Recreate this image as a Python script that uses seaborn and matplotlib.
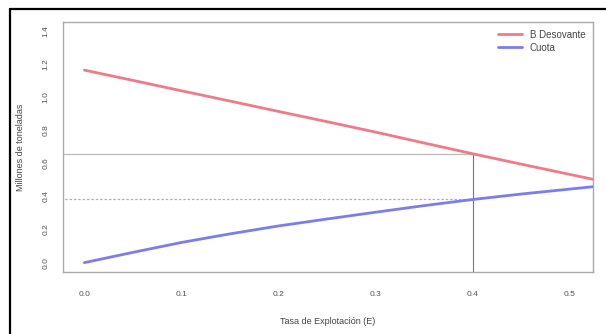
import numpy as np
import pandas as pd
import seaborn as sns
import matplotlib.pyplot as plt
from matplotlib.lines import Line2D

# values
tasa = [0.0, 0.05, 0.10, 0.15, 0.20, 0.25, 0.30, 0.35, 0.40, 0.45, 0.50, 0.525]
b_desovante = [1.165, 1.103, 1.040, 0.978, 0.915, 0.853, 0.790, 0.724, 0.659, 0.596, 0.534, 0.503]
cuota = [0.0, 0.062, 0.122, 0.174, 0.222, 0.264, 0.305, 0.345, 0.382, 0.415, 0.445, 0.460]
e_ref = 0.4
b_ref = 0.659
c_ref = 0.387

df = pd.DataFrame({
    "E": tasa * 2,
    "val": b_desovante + cuota,
    "serie": ["B Desovante"] * len(tasa) + ["Cuota"] * len(tasa),
})

sns.set_style("white")
plt.rcParams["font.family"] = ["Liberation Sans", "DejaVu Sans"]

fig = plt.figure(figsize=(6.06, 3.34), dpi=100)
ax = fig.add_axes([0.104, 0.186, 0.8745, 0.748])

# reference lines
ax.plot([-1, e_ref], [b_ref, b_ref], color="#bbbbbb", lw=0.9, zorder=1)
ax.plot([-1, e_ref], [c_ref, c_ref], color="#b0b0b0", lw=0.9, ls=(0, (2, 1.5)), zorder=1)
ax.plot([e_ref, e_ref], [-1, b_ref], color="#777777", lw=0.8, zorder=1)

sns.lineplot(data=df, x="E", y="val", hue="serie", ax=ax,
             palette={"B Desovante": "#f27a88", "Cuota": "#7b7cf2"},
             lw=2.0, legend=False, zorder=3)

ax.set_xlim(-0.022, 0.524)
ax.set_ylim(-0.056, 1.456)
ax.set_xticks([0.0, 0.1, 0.2, 0.3, 0.4, 0.5])
ax.set_yticks([0.0, 0.2, 0.4, 0.6, 0.8, 1.0, 1.2, 1.4])
ax.set_xticklabels(["0.0", "0.1", "0.2", "0.3", "0.4", "0.5"])
ax.set_yticklabels(["0.0", "0.2", "0.4", "0.6", "0.8", "1.0", "1.2", "1.4"],
                   rotation=90, va="center")
ax.tick_params(axis="both", labelsize=6, colors="#555555", length=3.5,
               width=0.7, direction="out")
ax.tick_params(axis="x", pad=10)
ax.tick_params(axis="y", pad=6)
ax.tick_params(axis="both", color="#999999")
for s in ax.spines.values():
    s.set_color("#aaaaaa")
    s.set_linewidth(1.0)

ax.set_xlabel("Tasa de Explotación (E)", fontsize=6.5, color="#444444", labelpad=14)
ax.set_ylabel("Millones de toneladas", fontsize=6.5, color="#444444", labelpad=13)

handles = [Line2D([], [], color="#f27a88", lw=2),
           Line2D([], [], color="#7b7cf2", lw=2)]
ax.legend(handles, ["B Desovante", "Cuota"], loc="upper right", frameon=False,
          fontsize=7, handlelength=2.4, handletextpad=0.8, labelspacing=0.3,
          borderaxespad=0.4, labelcolor="#444444")

# outer frame (left and top edges)
fig.add_artist(Line2D([9.5 / 606, 9.5 / 606], [0, 1 - 9 / 334], color="black",
                      lw=1.6, transform=fig.transFigure))
fig.add_artist(Line2D([9.5 / 606, 1], [1 - 9 / 334, 1 - 9 / 334], color="black",
                      lw=1.6, transform=fig.transFigure))

fig.savefig("out.png", dpi=100)
